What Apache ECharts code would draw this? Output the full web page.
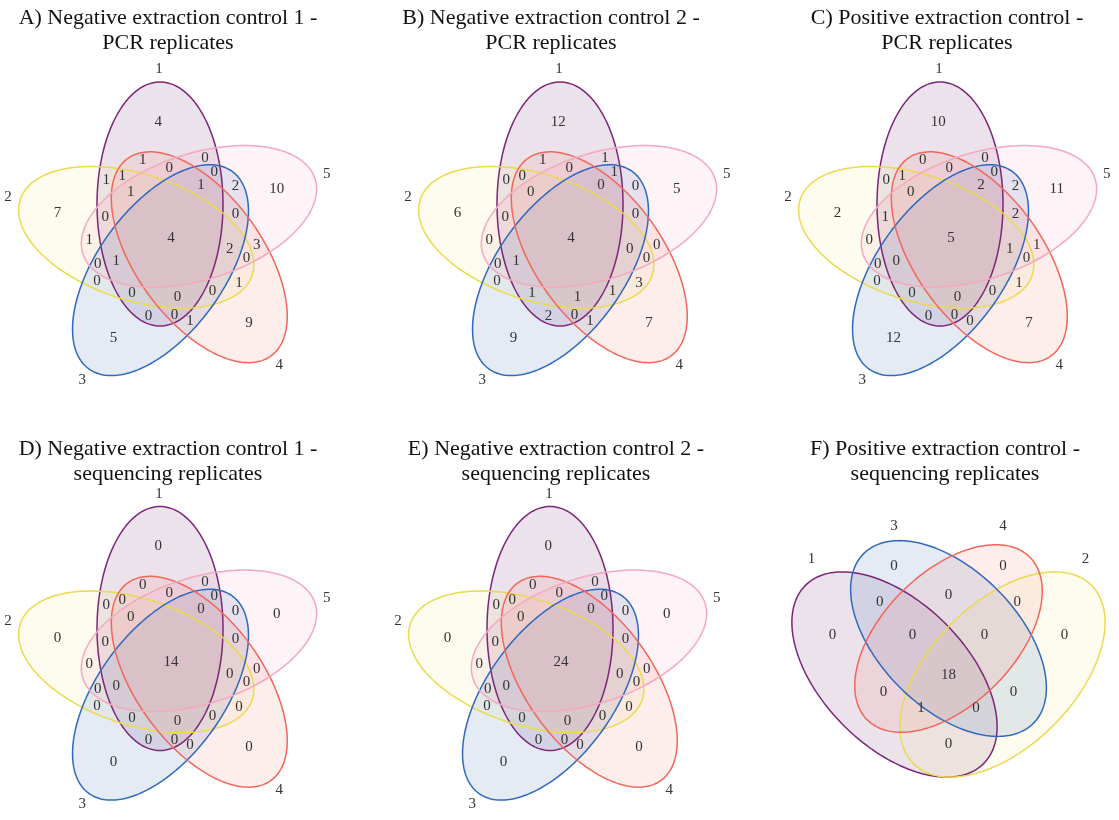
<!DOCTYPE html>
<html><head><meta charset="utf-8">
<script src="https://cdn.jsdelivr.net/npm/echarts@6/dist/echarts.min.js"></script>
<style>html,body{margin:0;padding:0;background:#fff}#chart{width:1119px;height:820px}</style>
</head><body><div id="chart"></div>
<script>
// ================= DATA =================
// 5-set panels: set labels in clockwise order starting from the top ellipse
const setLabels5 = ["1", "5", "4", "3", "2"];
// region order (groups of five, each group rotating clockwise), last = all five sets
const regions5 = [
  "1", "5", "4", "3", "2",
  "1&5", "5&4", "4&3", "3&2", "2&1",
  "1&4", "5&3", "4&2", "3&1", "2&5",
  "1&5&4", "5&4&3", "4&3&2", "3&2&1", "2&1&5",
  "1&5&3", "5&4&2", "4&3&1", "3&2&5", "2&1&4",
  "1&5&4&3", "5&4&3&2", "4&3&2&1", "3&2&1&5", "2&1&5&4",
  "1&2&3&4&5"
];
const valuesA = [4,10,9,5,7, 0,3,1,0,1, 1,2,1,0,1, 0,0,0,0,0, 0,0,0,0,1, 1,2,0,1,1, 4];
const valuesB = [12,5,7,9,6, 1,0,1,0,0, 1,0,3,2,0, 0,0,1,1,0, 1,0,0,0,0, 0,0,1,1,0, 4];
const valuesC = [10,11,7,12,2, 0,1,0,0,0, 0,2,1,0,0, 0,2,0,0,1, 0,0,0,0,1, 2,1,0,0,0, 5];
const valuesD = [0,0,0,0,0, 0,0,0,0,0, 0,0,0,0,0, 0,0,0,0,0, 0,0,0,0,0, 0,0,0,0,0, 14];
const valuesE = [0,0,0,0,0, 0,0,0,0,0, 0,0,0,0,0, 0,0,0,0,0, 0,0,0,0,0, 0,0,0,0,0, 24];

// 4-set panel F
const setLabelsF = ["1", "3", "4", "2"];
const regionsF = ["1","3","4","2", "1&3","3&4","4&2", "1&4","3&2","1&2",
                  "1&3&4","3&4&2","1&4&2","1&3&2", "1&2&3&4"];
const valuesF = [0,0,0,0, 0,0,0, 0,0,0, 0,0,1,0, 18];

const titleLine1 = [
  "A) Negative extraction control 1 -", "B) Negative extraction control 2 -", "C) Positive extraction control -",
  "D) Negative extraction control 1 -", "E) Negative extraction control 2 -", "F) Positive extraction control -"
];
const titleLine2 = ["PCR replicates", "PCR replicates", "PCR replicates",
                    "sequencing replicates", "sequencing replicates", "sequencing replicates"];

// ================= LAYOUT / STYLE =================
const W = 1119, H = 820;
const setStyle = {
  "1": {stroke: "#7B2777", fill: "rgba(128,62,128,0.15)"},
  "2": {stroke: "#EBDA4E", fill: "rgba(242,238,150,0.15)"},
  "3": {stroke: "#2F69BE", fill: "rgba(75,122,188,0.15)"},
  "4": {stroke: "#F2665A", fill: "rgba(242,128,115,0.14)"},
  "5": {stroke: "#F4A8BF", fill: "rgba(248,142,175,0.10)"}
};
const FONT = '"Liberation Serif", "Times New Roman", serif';

const L5 = {
  off: [-11, -33], ax: 63, ay: 122,
  setLab: [168, -4.1],
  groups: [[116, -6.3], [86.2, 23.2], [81.9, -20.1], [68.5, -1.4], [78.3, 33.5], [60, 29.9]],
  center: [0, 1]
};
const panels5 = [
  {c: [171, 237], v: valuesA}, {c: [571, 237], v: valuesB}, {c: [951, 237], v: valuesC},
  {c: [171, 661.5], v: valuesD}, {c: [561, 661.5], v: valuesE}
];
const LF = {
  c: [948.5, 638.5],
  ell: [
    {c: [-54, 36], a: 126, b: 72, rot: 45},
    {c: [0, 0], a: 120, b: 69, rot: 45},
    {c: [0, 0], a: 115, b: 66, rot: -45},
    {c: [54, 36], a: 126, b: 72, rot: -45}
  ],
  setLab: [[-137, -79.5], [-54.5, -112], [54.5, -112], [137, -79.5]],
  reg: [[-116,-3.5],[-54.5,-72],[54.5,-72],[116,-3.5],
        [-68.7,-36],[0,-43],[68.7,-36],
        [-65,54],[65,54],[0,105.5],
        [-36,-3.5],[36,-3.5],[-27.4,69.2],[27.4,69.2],[0,36.5]]
};
const titleX = [168, 551, 947, 168, 556, 945];
const titleY = [[18, 43], [18, 43], [18, 43], [449, 474], [449, 474], [449, 474]];

// helpers
const d2r = Math.PI / 180;
function rot(v, deg) { const c = Math.cos(deg*d2r), s = Math.sin(deg*d2r); return [v[0]*c - v[1]*s, v[0]*s + v[1]*c]; }
function pol(r, phi) { return [r*Math.sin(phi*d2r), -r*Math.cos(phi*d2r)]; }

// build ellipse records: [cx, cy, ax, ay, rotDeg, setNumber]
const ellipses = [];
const texts = []; // [x, y, value, kind] kind 0=count, 1=set label
panels5.forEach(p => {
  for (let k = 0; k < 5; k++) {
    const o = rot(L5.off, 72*k);
    ellipses.push([p.c[0]+o[0], p.c[1]+o[1], L5.ax, L5.ay, 72*k, +setLabels5[k]]);
    const sl = pol(L5.setLab[0], L5.setLab[1] + 72*k);
    texts.push([p.c[0]+sl[0], p.c[1]+sl[1], +setLabels5[k], 1]);
  }
  regions5.forEach((name, i) => {
    let pt;
    if (i === 30) pt = L5.center;
    else { const g = L5.groups[Math.floor(i/5)]; pt = pol(g[0], g[1] + 72*(i%5)); }
    texts.push([p.c[0]+pt[0], p.c[1]+pt[1], p.v[i], 0]);
  });
});
LF.ell.forEach((e, k) => {
  ellipses.push([LF.c[0]+e.c[0], LF.c[1]+e.c[1], e.a, e.b, e.rot, +setLabelsF[k]]);
  texts.push([LF.c[0]+LF.setLab[k][0], LF.c[1]+LF.setLab[k][1], +setLabelsF[k], 1]);
});
regionsF.forEach((name, i) => {
  texts.push([LF.c[0]+LF.reg[i][0], LF.c[1]+LF.reg[i][1], valuesF[i], 0]);
});
// draw order by set number (1..5)
ellipses.sort((a, b) => a[5] - b[5]);

function ellipsePoints(api) {
  const cx = api.value(0), cy = api.value(1), ax = api.value(2), ay = api.value(3), r = api.value(4);
  const pts = [];
  for (let i = 0; i < 180; i++) {
    const t = i / 180 * 2 * Math.PI;
    const q = rot([ax*Math.cos(t), ay*Math.sin(t)], r);
    pts.push(api.coord([cx+q[0], cy+q[1]]));
  }
  return pts;
}

const chart = echarts.init(document.getElementById('chart'), null, {renderer: 'canvas'});
const graphics = [];
titleLine1.forEach((t, i) => {
  graphics.push({type: 'text', x: titleX[i], y: titleY[i][0], silent: true,
    style: {text: t, font: '22px ' + FONT, fill: '#111', textAlign: 'center', textVerticalAlign: 'middle'}});
  graphics.push({type: 'text', x: titleX[i], y: titleY[i][1], silent: true,
    style: {text: titleLine2[i], font: '22px ' + FONT, fill: '#111', textAlign: 'center', textVerticalAlign: 'middle'}});
});

chart.setOption({
  animation: false,
  backgroundColor: '#fff',
  grid: {left: 0, top: 0, right: 0, bottom: 0},
  xAxis: {type: 'value', min: 0, max: W, show: false},
  yAxis: {type: 'value', min: 0, max: H, inverse: true, show: false},
  graphic: graphics,
  series: [
    {type: 'custom', clip: false, silent: true, z: 1, data: ellipses,
     renderItem: (params, api) => ({type: 'polygon', shape: {points: ellipsePoints(api)},
        style: {fill: setStyle[api.value(5)].fill, stroke: 'none'}})},
    {type: 'custom', clip: false, silent: true, z: 2, data: ellipses,
     renderItem: (params, api) => ({type: 'polygon', shape: {points: ellipsePoints(api)},
        style: {fill: 'none', stroke: setStyle[api.value(5)].stroke, lineWidth: 1.5}})},
    {type: 'custom', clip: false, silent: true, z: 3, data: texts,
     renderItem: (params, api) => {
       const p = api.coord([api.value(0), api.value(1)]);
       return {type: 'text', x: p[0], y: p[1],
         style: {text: String(api.value(2)), font: '15px ' + FONT,
                 fill: '#333', textAlign: 'center', textVerticalAlign: 'middle'}};
     }}
  ]
});
</script>
</body></html>
